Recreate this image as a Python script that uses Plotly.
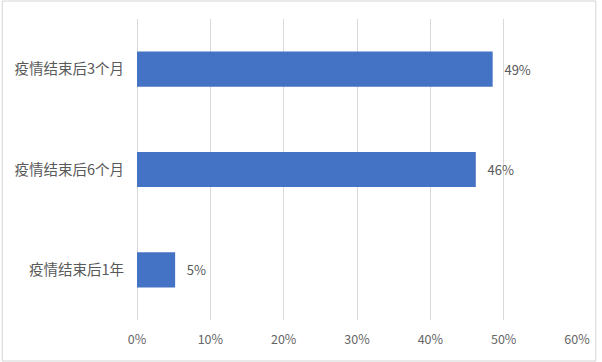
import plotly.graph_objects as go

categories = ["疫情结束后3个月", "疫情结束后6个月", "疫情结束后1年"]
values = [48.5, 46.2, 5.2]
labels = ["49%", "46%", "5%"]
tick_vals = [0, 10, 20, 30, 40, 50, 60]
tick_text = ["0%", "10%", "20%", "30%", "40%", "50%", "60%"]

W, H = 602, 362
ml, mr, mt, mb = 137, 21, 19, 42

fig = go.Figure()
fig.add_trace(go.Bar(
    y=categories, x=values, orientation="h",
    marker=dict(color="#4472C4", line=dict(width=0)),
    text=["   " + s for s in labels], textposition="outside",
    textfont=dict(size=13, color="#595959", family="Noto Sans CJK SC"),
    cliponaxis=False, hoverinfo="skip",
))

pw = W - ml - mr
ph = H - mt - mb
fig.add_shape(type="rect", xref="paper", yref="paper",
              x0=(1 - ml) / pw, x1=(W - 2 - ml) / pw,
              y0=-(mb - 1) / ph, y1=1 + (mt - 1) / ph,
              line=dict(color="#d4d4d4", width=1), layer="below")

fig.update_layout(
    width=W, height=H,
    margin=dict(l=ml, r=mr, t=mt, b=mb),
    paper_bgcolor="white", plot_bgcolor="white",
    bargap=0.65, showlegend=False,
    font=dict(family="Noto Sans CJK SC", color="#595959"),
    xaxis=dict(range=[0, 60], tickvals=tick_vals, ticktext=tick_text,
               showgrid=True, gridcolor="#d9d9d9", gridwidth=1,
               zeroline=True, zerolinecolor="#d9d9d9", zerolinewidth=1,
               showline=False, tickfont=dict(size=12.5, color="#666666"),
               ticks="", ticklabelstandoff=10, fixedrange=True),
    yaxis=dict(categoryorder="array", categoryarray=categories[::-1],
               showgrid=False, zeroline=False, showline=False, ticks="",
               tickfont=dict(size=14.5, color="#595959"), ticklabelstandoff=12,
               fixedrange=True),
)

fig.write_html("out.html", config={"displayModeBar": False},
               post_script="document.body.style.margin='0';document.body.style.overflow='hidden';")
